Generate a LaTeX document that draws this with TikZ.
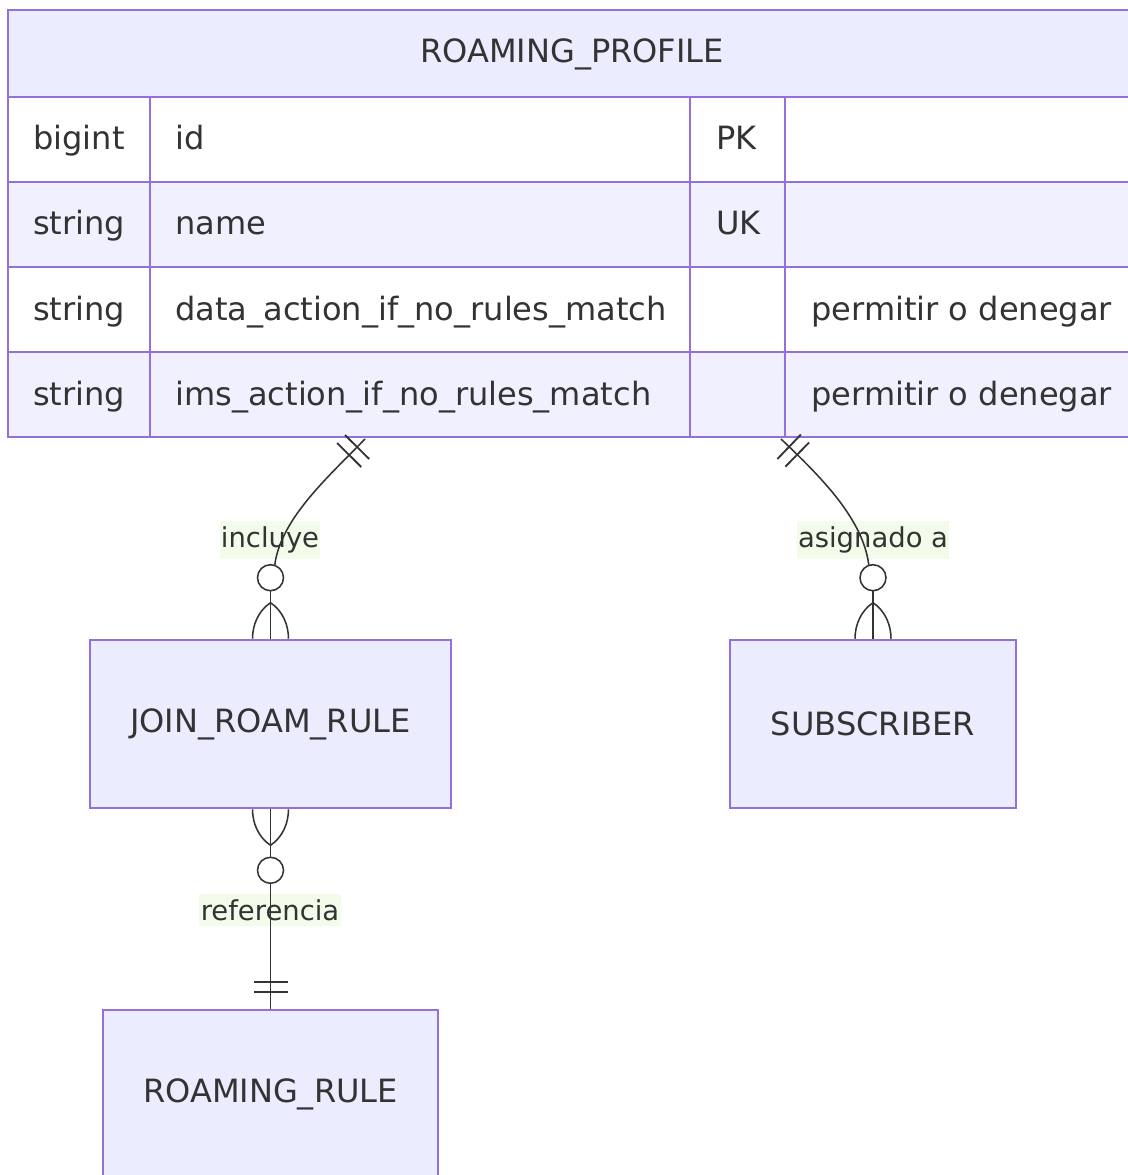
\documentclass[tikz,border=0pt]{standalone}
\usepackage{fontspec}
\setmainfont{DejaVu Sans}
\usetikzlibrary{calc,decorations.markings}
\definecolor{erborder}{HTML}{9370DB}
\definecolor{erfill}{HTML}{ECECFF}
\definecolor{errow}{HTML}{F1F0FF}
\definecolor{erline}{HTML}{333333}
\definecolor{lblbg}{HTML}{F3FBEA}
\tikzset{
  entity/.style={draw=erborder, fill=erfill, line width=1.8pt, minimum height=4.2cm,
    font=\fontsize{22.8}{27}\selectfont, text=erline},
  cell/.style={draw=erborder, line width=2pt},
  celltext/.style={anchor=base west, inner sep=0pt, font=\fontsize{22.8}{27}\selectfont, text=erline},
  rel/.style={draw=erline, line width=1.1pt},
  rellabel/.style={fill=lblbg, inner xsep=1pt, inner ysep=4pt,
    font=\fontsize{19.5}{23}\selectfont, text=erline},
  bars/.style={postaction={decorate, decoration={markings,
    mark=at position #1 with {\draw[line width=1.3pt, erline] (0,-17) -- (0,17);}}}},
  zeromany/.pic={
    \draw[rel] (0,-48) -- (0,0);
    \draw[rel] (0,-36) .. controls (-12,-28) and (-18,-14) .. (-18,0);
    \draw[rel] (0,-36) .. controls (12,-28) and (18,-14) .. (18,0);
    \draw[rel, fill=white] (0,-61) circle[radius=13];
  }
}
\begin{document}
\begin{tikzpicture}[x=0.025cm, y=-0.025cm]
    \useasboundingbox (0,0) rectangle (1128,1175);
    \clip (0,0) rectangle (1128,1175);

    \draw[cell, fill=erfill] (8,10) rectangle (1136,97);
    \node[celltext, anchor=base] (rp) at (572,63) {ROAMING\_PROFILE};

    \foreach \top/\ty/\nm/\ky/\cm/\bg in {
        97/bigint/id/PK//white,
        182/string/name/UK//errow,
        267/string/data\_action\_if\_no\_rules\_match//permitir o denegar/white,
        352/string/ims\_action\_if\_no\_rules\_match//permitir o denegar/errow} {
            \draw[cell, fill=\bg] (8,\top) rectangle (1136,{\top+85});
            \draw[cell] (150,\top) -- (150,{\top+85});
            \draw[cell] (690,\top) -- (690,{\top+85});
            \draw[cell] (785,\top) -- (785,{\top+85});
            \node[celltext] (ty-\top) at (33,{\top+53}) {\ty};
            \node[celltext] (nm-\top) at (175,{\top+53}) {\nm};
            \node[celltext] (ky-\top) at (716,{\top+53}) {\ky};
            \node[celltext] (cm-\top) at (811,{\top+53}) {\cm};
        }

    \coordinate (rp-inc) at (365,439);
    \coordinate (rp-sub) at (781,439);

    \node[entity, minimum width=9.025cm] (jrr) at (270.5,724) {JOIN\_ROAM\_RULE};
    \node[entity, minimum width=7.15cm] (sub) at (873,724) {SUBSCRIBER};
    \node[entity, minimum width=8.375cm] (rr) at (270.5,1094) {ROAMING\_RULE};

    \node[rellabel] (lbl-inc) at (270,540) {incluye};
    \node[rellabel] (lbl-sub) at (873,540) {asignado a};
    \node[rellabel] (lbl-ref) at (270,910) {referencia};

    \draw[rel, bars=8pt, bars=16pt] (rp-inc) .. controls (325,480) and (280,520) .. ($(jrr.north)+(4,-72)$);
    \pic at (jrr.north) {zeromany};

    \draw[rel, bars=8pt, bars=16pt] (rp-sub) .. controls (822,478) and (864,520) .. ($(sub.north)+(-4,-72)$);
    \pic at (sub.north) {zeromany};

    \draw[rel, bars=-12pt, bars=-19pt] (jrr.south) -- (rr.north);
    \pic[rotate=180] at (jrr.south) {zeromany};
\end{tikzpicture}
\end{document}
